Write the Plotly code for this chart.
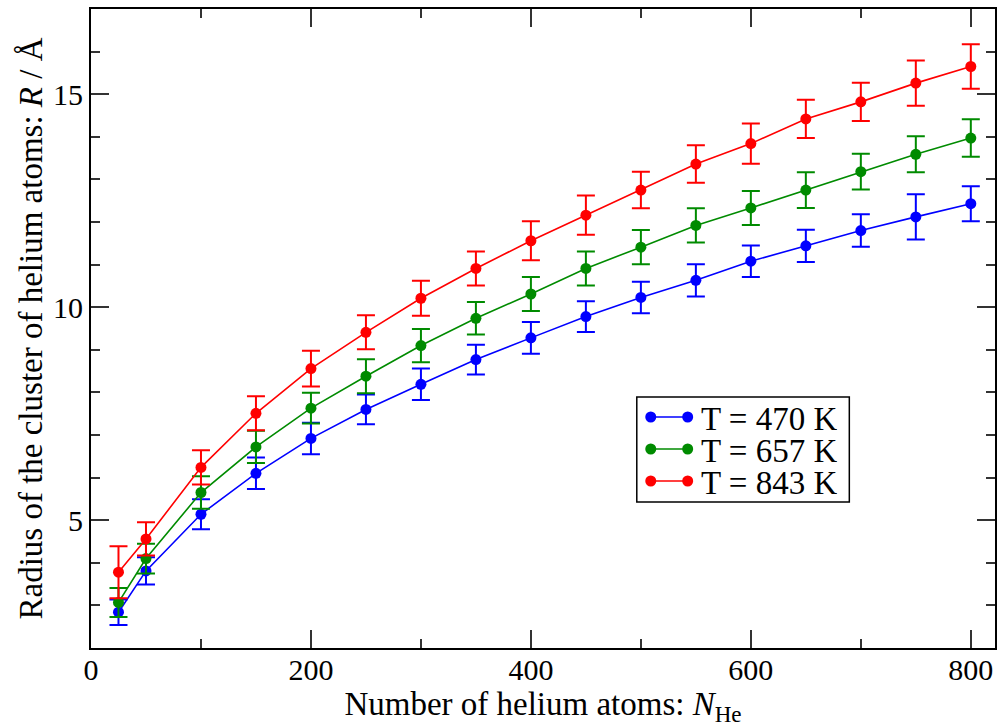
import plotly.graph_objects as go

n_he = [25, 50, 100, 150, 200, 250, 300, 350, 400, 450, 500, 550, 600, 650, 700, 750, 800]

r_470 = [2.84, 3.81, 5.14, 6.10, 6.92, 7.60, 8.19, 8.77, 9.28, 9.78, 10.23, 10.63, 11.08, 11.44, 11.80, 12.12, 12.43]
e_470 = [0.30, 0.32, 0.35, 0.37, 0.37, 0.35, 0.37, 0.35, 0.37, 0.36, 0.37, 0.38, 0.37, 0.38, 0.38, 0.53, 0.41]

r_657 = [3.07, 4.10, 5.65, 6.72, 7.63, 8.38, 9.10, 9.74, 10.31, 10.91, 11.41, 11.92, 12.33, 12.75, 13.18, 13.59, 13.97]
e_657 = [0.34, 0.35, 0.38, 0.38, 0.36, 0.40, 0.39, 0.38, 0.40, 0.40, 0.40, 0.40, 0.40, 0.42, 0.42, 0.42, 0.44]

r_843 = [3.78, 4.56, 6.24, 7.51, 8.56, 9.41, 10.21, 10.91, 11.56, 12.16, 12.75, 13.36, 13.84, 14.42, 14.82, 15.26, 15.65]
e_843 = [0.61, 0.39, 0.40, 0.40, 0.42, 0.40, 0.41, 0.40, 0.46, 0.46, 0.43, 0.44, 0.47, 0.45, 0.45, 0.53, 0.52]

labels = ["T = 470 K", "T = 657 K", "T = 843 K"]
colors = ["#0000ff", "#008b00", "#ff0000"]
values = [r_470, r_657, r_843]
errors = [e_470, e_657, e_843]

FONT = "Liberation Serif"
W, H = 1000, 727
ML, MR, MT, MB = 91, 3, 9, 79
PW, PH = W - ML - MR, H - MT - MB


def px(xp):
    return (xp - ML) / PW


def py(yp):
    return 1 - (yp - MT) / PH


fig = go.Figure()
for name, ys, es, col in zip(labels, values, errors, colors):
    fig.add_trace(go.Scatter(
        x=n_he, y=ys, name=name, mode="lines+markers",
        line=dict(color=col, width=1.6),
        marker=dict(color=col, size=11, symbol="circle"),
        error_y=dict(type="data", array=es, visible=True, color=col,
                     thickness=2, width=9),
        showlegend=False,
    ))

# hand-built legend box (xmgrace style: line with a marker at each end)
shapes = [dict(type="rect", xref="paper", yref="paper",
               x0=px(638), x1=px(851), y0=py(502), y1=py(397),
               line=dict(color="black", width=1.5), fillcolor="white", layer="above")]
annotations = []
row_y = [417, 449, 481]
r = 5.5
for name, col, ry in zip(labels, colors, row_y):
    shapes.append(dict(type="line", xref="paper", yref="paper",
                       x0=px(652), x1=px(689), y0=py(ry), y1=py(ry),
                       line=dict(color=col, width=1.6), layer="above"))
    for cx in (652, 689):
        shapes.append(dict(type="circle", xref="paper", yref="paper",
                           x0=px(cx - r), x1=px(cx + r), y0=py(ry + r), y1=py(ry - r),
                           line=dict(color=col, width=0), fillcolor=col, layer="above"))
    annotations.append(dict(text=name, xref="paper", yref="paper",
                            x=px(701), y=py(ry + 1), xanchor="left", yanchor="middle",
                            height=31, valign="middle", borderpad=0,
                            showarrow=False,
                            font=dict(family=FONT, size=33, color="black")))

axis_common = dict(
    showline=True, linecolor="black", linewidth=2, mirror="allticks",
    ticks="inside", ticklen=18, tickwidth=1.5, tickcolor="#333333",
    showgrid=False, zeroline=False,
    tickfont=dict(family=FONT, size=30, color="black"),
)

fig.update_layout(
    width=W, height=H,
    paper_bgcolor="white", plot_bgcolor="white",
    margin=dict(l=ML, r=MR, t=MT, b=MB),
    font=dict(family=FONT, size=30, color="black"),
    showlegend=False,
    shapes=shapes,
    annotations=annotations,
    xaxis=dict(
        range=[0, 822], dtick=200, tick0=0,
        minor=dict(dtick=100, ticklen=9, ticks="inside", tickcolor="#333333", tickwidth=1.5),
        ticklabelstandoff=-6,
        title=dict(text="Number of helium atoms: <i>N</i><sub>He</sub>",
                   font=dict(family=FONT, size=33, color="black"), standoff=0),
        **axis_common,
    ),
    yaxis=dict(
        range=[2, 17], dtick=5, tick0=0,
        minor=dict(dtick=1, ticklen=9, ticks="inside", tickcolor="#333333", tickwidth=1.5),
        title=dict(text="Radius of the cluster of helium atoms: <i>R</i> / Å",
                   font=dict(family=FONT, size=33, color="black"), standoff=0),
        **axis_common,
    ),
)

fig.write_html("out.html", config={"displayModeBar": False},
               post_script="document.body.style.margin='0';")
